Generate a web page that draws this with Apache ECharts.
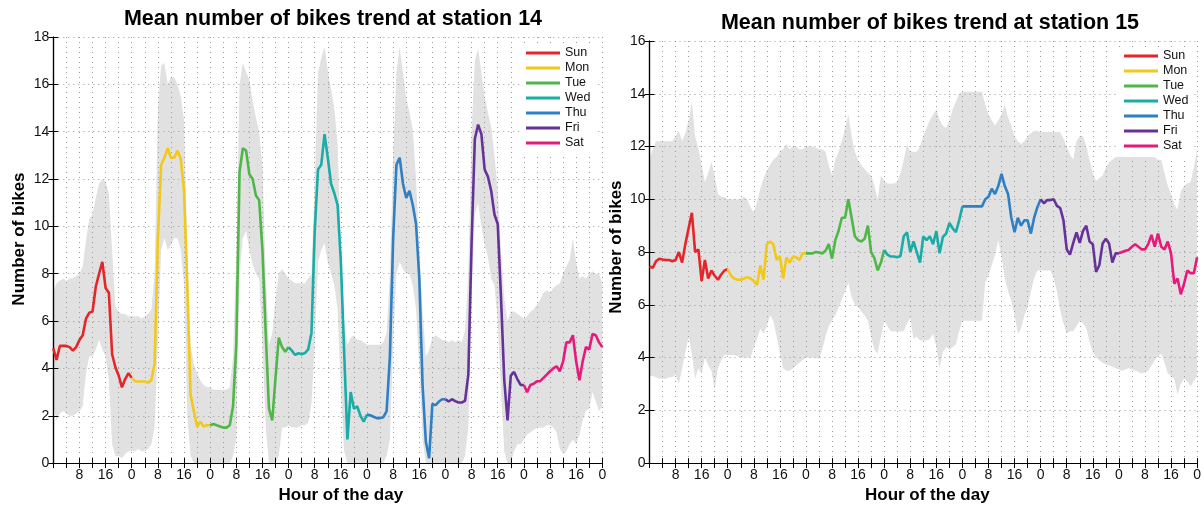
<!DOCTYPE html>
<html><head><meta charset="utf-8">
<script src="https://cdn.jsdelivr.net/npm/echarts@6/dist/echarts.min.js"></script>
<style>html,body{margin:0;padding:0;background:#fff}#c{width:1204px;height:509px}</style>
</head><body><div id="c"></div>
<script>
// ---------- DATA ----------
const days = ['Sun','Mon','Tue','Wed','Thu','Fri','Sat'];
const titles = ['Mean number of bikes trend at station 14','Mean number of bikes trend at station 15'];
const yMax = [18, 16];
// hourly values, hour 0..168 (Sunday 00:00 to the next Sunday 00:00)
const meanA = [
4.85,4.36,4.95,4.95,4.95,4.9,4.75,4.9,5.2,5.4,6.1,6.35,6.4,7.45,8.0,8.5,7.4,7.2,4.6,4.05,3.7,3.2,3.55,3.8,
3.6,3.46,3.45,3.45,3.45,3.4,3.5,4.2,9.5,12.6,12.9,13.3,12.9,12.9,13.2,12.85,11.5,7.5,2.9,2.2,1.55,1.75,1.55,1.6,
1.6,1.65,1.6,1.55,1.5,1.5,1.6,2.4,5.0,12.3,13.3,13.2,12.2,12.0,11.3,11.1,9.0,5.5,2.3,1.8,3.6,5.3,4.9,4.7,
4.9,4.75,4.57,4.64,4.6,4.65,4.8,5.5,9.8,12.4,12.6,13.9,12.9,11.8,11.4,10.9,8.5,4.7,1.0,3.0,2.3,2.4,2.0,1.75,
2.05,2.02,1.96,1.9,1.9,1.94,2.2,4.5,9.5,12.6,12.9,11.8,11.2,11.5,10.9,10.1,7.8,3.3,0.9,0.2,2.5,2.45,2.6,2.7,
2.7,2.6,2.7,2.62,2.56,2.56,2.63,3.74,9.3,13.7,14.3,13.9,12.4,12.1,11.5,10.5,10.1,7.0,3.5,1.8,3.7,3.85,3.55,3.3,
3.3,3.0,3.3,3.35,3.46,3.46,3.6,3.74,3.88,4.0,4.09,3.88,4.29,5.1,5.1,5.4,4.3,3.5,4.3,4.9,4.8,5.45,5.4,5.1,4.9];
const upperA = [
7.2,7.6,7.7,7.8,7.7,7.8,7.8,7.9,8.0,8.3,9.4,10.3,10.5,11.2,11.8,12.0,11.9,11.4,9.0,6.6,6.4,6.3,6.3,6.2,
6.2,6.2,6.2,6.1,6.2,6.3,6.5,8.0,15.0,16.8,16.9,16.0,16.3,16.3,16.0,15.5,14.5,9.0,5.0,4.2,3.8,3.5,3.3,3.2,
3.2,3.1,3.1,3.1,3.1,3.1,3.2,4.5,9.0,16.0,16.9,16.5,16.2,15.3,14.6,14.0,12.5,8.0,5.0,5.5,7.0,8.0,8.2,8.0,
7.8,7.7,7.6,7.6,7.6,7.6,7.8,8.0,12.0,16.5,17.1,17.6,16.6,15.8,15.0,13.5,9.0,6.0,5.0,5.3,5.4,5.2,5.2,5.1,
5.0,5.0,5.0,5.0,5.0,5.1,5.5,8.0,13.0,16.5,17.6,16.5,15.4,14.8,14.1,12.0,9.0,6.5,4.5,4.8,5.3,5.4,5.3,5.2,
5.2,5.1,5.2,5.1,5.2,5.1,5.6,8.0,14.0,17.0,17.5,16.5,15.5,14.8,14.2,13.0,11.5,9.0,7.0,6.0,6.4,6.4,6.3,6.2,
6.1,6.2,6.4,6.5,6.7,6.9,7.2,7.3,7.2,7.4,7.5,7.6,8.0,8.3,8.6,9.5,8.5,7.8,7.9,7.8,8.0,8.1,8.0,8.0,7.6];
const lowerA = [
2.4,1.8,2.1,2.2,2.1,2.0,2.0,2.1,2.2,2.4,3.8,4.5,4.5,4.8,5.2,4.8,4.5,3.5,0.8,0.3,0.3,0.2,0.4,0.5,
0.5,0.5,0.6,0.5,0.5,0.6,0.8,1.5,5.0,9.0,9.5,9.0,9.2,9.5,9.5,9.0,7.5,2.0,0.3,0,0,0,0,0,
0,0,0,0,0,0,0,0.3,1.0,8.0,9.5,9.8,9.0,8.4,8.0,7.8,5.0,1.5,0,0,0,0.3,1.5,1.5,
1.6,1.5,1.5,1.5,1.6,1.6,1.7,2.5,5.0,8.5,9.0,9.3,8.5,8.0,7.5,6.5,3.0,0.5,0,0,0,0,0,0,
0,0,0,0,0,0,0.3,1.0,5.0,8.0,8.5,8.2,8.0,8.0,7.5,6.5,4.0,1.0,0,0,0,0,0,0,
0,0,0,0,0,0,0.3,1.5,7.0,10.5,11.0,10.0,9.2,8.7,7.8,7.5,6.0,3.0,0.5,0,0,0.5,0.8,0.8,
1.0,1.2,1.3,1.4,1.5,1.5,1.5,1.6,1.6,1.5,1.3,0.6,0.4,0.5,0.8,1.0,0.8,1.2,1.8,2.2,2.3,3.0,2.6,2.2,2.4];
const meanB = [
7.45,7.4,7.65,7.75,7.72,7.7,7.7,7.65,7.7,8.0,7.6,8.3,8.9,9.49,8.0,8.1,6.9,7.7,7.0,7.3,7.1,6.95,7.15,7.3,
7.35,7.1,7.0,6.95,6.95,7.0,7.05,7.0,6.9,6.75,7.5,6.95,8.3,8.4,8.3,7.7,7.85,7.0,7.8,7.6,7.83,7.8,7.7,7.95,
7.95,7.95,7.95,8.0,7.98,7.95,8.05,8.3,7.75,8.45,8.8,9.3,9.3,10.0,9.3,8.6,8.45,8.4,8.5,9.0,8.0,7.77,7.3,7.6,
8.08,7.9,7.83,7.83,7.8,7.85,8.6,8.75,8.0,8.4,8.0,7.6,8.6,8.45,8.6,8.3,8.8,7.95,8.57,8.7,9.1,8.9,8.75,9.2,
9.73,9.73,9.73,9.73,9.73,9.73,9.73,10.0,10.1,10.4,10.2,10.5,10.96,10.5,10.2,9.3,8.75,9.3,9.0,9.2,9.2,8.7,9.3,9.7,
10.0,9.85,9.97,9.97,10.0,9.75,9.67,9.2,8.1,7.9,8.35,8.75,8.35,8.8,9.0,8.4,8.3,7.25,7.5,8.32,8.5,8.32,7.6,7.95,
7.95,8.0,8.05,8.08,8.2,8.3,8.2,8.1,8.1,8.3,8.65,8.2,8.7,8.2,8.1,8.4,7.95,6.8,7.0,6.4,6.8,7.3,7.2,7.2,7.8];
const upperB = [
11.5,11.9,12.2,12.2,12.2,12.2,12.2,12.2,12.4,12.6,12.2,12.5,13.0,13.7,12.4,11.9,11.3,10.65,11.0,11.4,10.9,10.2,10.1,10.1,
10.0,10.0,10.0,10.0,10.0,10.1,10.0,9.7,9.5,9.9,10.4,10.8,11.1,11.3,11.5,11.6,11.8,11.9,12.1,11.9,12.0,12.0,11.9,11.9,
12.0,12.0,12.0,11.95,11.9,11.9,11.8,11.3,10.9,11.5,11.8,12.2,12.7,13.2,12.4,11.8,11.5,11.3,11.15,11.0,10.9,10.5,10.0,10.9,
10.7,10.6,10.6,10.6,10.65,11.0,11.5,12.1,11.8,11.8,11.8,12.0,12.4,12.7,13.0,13.2,13.4,13.0,12.8,12.7,13.0,13.4,13.7,14.0,
14.08,14.08,14.08,14.08,14.08,14.08,14.08,13.6,13.2,13.0,12.8,13.0,13.2,13.6,13.1,12.8,12.4,12.2,12.1,12.2,12.4,12.5,12.6,12.6,
12.55,12.55,12.55,12.55,12.55,12.55,12.55,12.3,12.0,11.7,11.5,12.2,12.4,12.4,12.0,11.5,11.0,10.7,10.8,10.9,11.2,11.4,11.5,11.6,
11.6,11.6,11.6,11.6,11.6,11.6,11.6,11.6,11.6,11.6,11.6,11.6,11.5,11.5,11.0,10.5,10.2,9.8,9.6,10.3,10.5,10.6,10.65,11.2,11.9];
const lowerB = [
3.3,3.3,3.25,3.2,3.2,3.2,3.25,3.25,3.35,3.0,3.6,4.2,4.77,4.15,3.2,3.6,3.4,4.0,3.7,3.5,2.8,3.6,3.9,4.1,
4.1,4.1,4.1,4.05,4.0,4.0,4.0,4.0,4.4,4.7,5.1,4.9,5.2,5.6,5.4,4.8,4.2,3.6,3.5,3.5,3.6,3.7,3.8,3.9,
4.0,4.0,4.0,4.0,3.95,4.3,4.8,5.2,5.4,5.6,5.9,6.2,6.5,6.85,6.3,6.0,5.9,5.75,5.6,5.4,4.8,4.3,4.15,4.8,
5.4,5.2,5.0,5.0,5.0,5.0,5.0,5.3,5.5,4.7,4.8,4.65,4.65,4.65,4.7,4.9,4.4,3.6,4.2,4.4,4.3,4.4,4.5,5.0,
5.4,5.4,5.4,5.4,5.4,5.4,5.4,6.85,7.1,7.5,7.9,8.45,7.8,7.0,6.5,6.15,5.6,4.9,5.1,5.6,5.9,6.5,7.0,7.3,
7.3,7.3,7.3,7.3,7.0,6.5,5.8,5.3,4.9,5.0,5.0,5.2,5.4,5.3,5.1,4.6,4.2,4.0,3.9,3.8,3.75,3.7,3.65,3.6,
3.55,3.5,3.55,3.6,3.55,3.5,3.45,3.4,3.45,3.5,3.7,3.9,4.05,4.15,3.8,3.4,3.3,3.2,2.6,3.0,3.2,3.1,2.9,3.1,3.3];

// ---------- STYLE ----------
const dayColors = ['#e3262a','#f2c81a','#4fb748','#1aaca6','#2f7fc4','#67319a','#e51b7c'];
const FONT = 'Liberation Sans, Arial, Helvetica, sans-serif';
const grids = [
  {left: 53.3, top: 37, width: 549, height: 433},
  {left: 649.5, top: 41, width: 551.5, height: 435.4}
];
const legendPos = [{left: 521, top: 44}, {left: 1119, top: 47}];
const titlePos = [{left: 328, top: 3}, {left: 925, top: 7}];
const xNamePad = [[0, 0, 0, 26], [0, 0, 0, 8]];
const yNamePad = [[0, 0, 0, 22], [0, 0, 0, 10]];
const panels = [
  {mean: meanA, upper: upperA, lower: lowerA},
  {mean: meanB, upper: upperB, lower: lowerB}
];

const xAxes = [], yAxes = [], series = [], titleArr = [], legends = [];
const dotted = {type: [1, 4], color: '#9a9a9a', width: 1};
const nameStyle = (pad) => ({fontFamily: FONT, fontSize: 17, fontWeight: 'bold', color: '#000', padding: pad});
panels.forEach((p, g) => {
  xAxes.push({
    gridIndex: g, type: 'value', min: 0, max: 168, interval: 4, position: 'bottom', z: 2,
    axisLine: {lineStyle: {color: '#000', width: 1.2}},
    axisTick: {inside: true, length: 5, lineStyle: {color: '#000'}},
    axisLabel: {fontFamily: FONT, fontSize: 14, color: '#111', margin: 5,
      formatter: v => (v > 0 && v % 8 === 0) ? String(v % 24) : ''},
    splitLine: {show: true, lineStyle: dotted},
    name: 'Hour of the day', nameLocation: 'middle', nameGap: 18, nameTextStyle: nameStyle(xNamePad[g])
  });
  xAxes.push({
    gridIndex: g, type: 'value', min: 0, max: 168, interval: 4, position: 'top', z: 2,
    axisLine: {lineStyle: {color: '#000', width: 1.2}},
    axisTick: {inside: true, length: 5, lineStyle: {color: '#000'}},
    axisLabel: {show: false}, splitLine: {show: false}
  });
  yAxes.push({
    gridIndex: g, type: 'value', min: 0, max: yMax[g], interval: 2, position: 'left', z: 2,
    axisLine: {show: true, lineStyle: {color: '#000', width: 1.2}},
    axisTick: {show: true, inside: true, length: 5, lineStyle: {color: '#000'}},
    axisLabel: {fontFamily: FONT, fontSize: 14, color: '#111', margin: 4},
    splitLine: {show: true, lineStyle: dotted},
    name: 'Number of bikes', nameLocation: 'middle', nameGap: 25, nameRotate: 90,
    nameTextStyle: nameStyle(yNamePad[g])
  });
  yAxes.push({
    gridIndex: g, type: 'value', min: 0, max: yMax[g], interval: 2, position: 'right', z: 2,
    axisLine: {show: true, lineStyle: {color: '#000', width: 1.2}},
    axisTick: {show: true, inside: true, length: 5, lineStyle: {color: '#000'}},
    axisLabel: {show: false}, splitLine: {show: false}
  });
  const xi = g * 2, yi = g * 2;
  // variability band: grey area up to the upper bound, white area up to the lower bound
  series.push({
    type: 'line', xAxisIndex: xi, yAxisIndex: yi, z: 1, silent: true,
    data: p.upper.map((v, i) => [i, v]), showSymbol: false, symbol: 'none',
    lineStyle: {width: 0, opacity: 0}, areaStyle: {color: '#e1e1e1', opacity: 1, origin: 'start'}
  });
  series.push({
    type: 'line', xAxisIndex: xi, yAxisIndex: yi, z: 1, silent: true,
    data: p.lower.map((v, i) => [i, v]), showSymbol: false, symbol: 'none',
    lineStyle: {width: 0, opacity: 0}, areaStyle: {color: '#ffffff', opacity: 1, origin: 'start'}
  });
  days.forEach((d, k) => {
    const data = [];
    for (let h = k * 24; h <= k * 24 + 24; h++) data.push([h, p.mean[h]]);
    series.push({
      name: d, type: 'line', xAxisIndex: xi, yAxisIndex: yi, z: 3,
      data, showSymbol: false, symbol: 'none', color: dayColors[k],
      lineStyle: {width: 2.6, color: dayColors[k]}
    });
  });
  titleArr.push({
    text: titles[g], left: titlePos[g].left, top: titlePos[g].top, textAlign: 'center',
    textStyle: {fontFamily: FONT, fontSize: 21.5, fontWeight: 'bold', color: '#000'}
  });
  legends.push({
    data: days, orient: 'vertical', left: legendPos[g].left, top: legendPos[g].top,
    icon: 'rect', itemWidth: 34, itemHeight: 3, itemGap: 1, padding: [2, 5, 4, 5],
    backgroundColor: '#fff', z: 5,
    textStyle: {fontFamily: FONT, fontSize: 12.5, color: '#111', lineHeight: 14}
  });
});

const chart = echarts.init(document.getElementById('c'), null, {renderer: 'canvas'});
chart.setOption({
  backgroundColor: '#fff', animation: false,
  title: titleArr, legend: legends,
  grid: grids,
  xAxis: xAxes, yAxis: yAxes, series
});
</script></body></html>
